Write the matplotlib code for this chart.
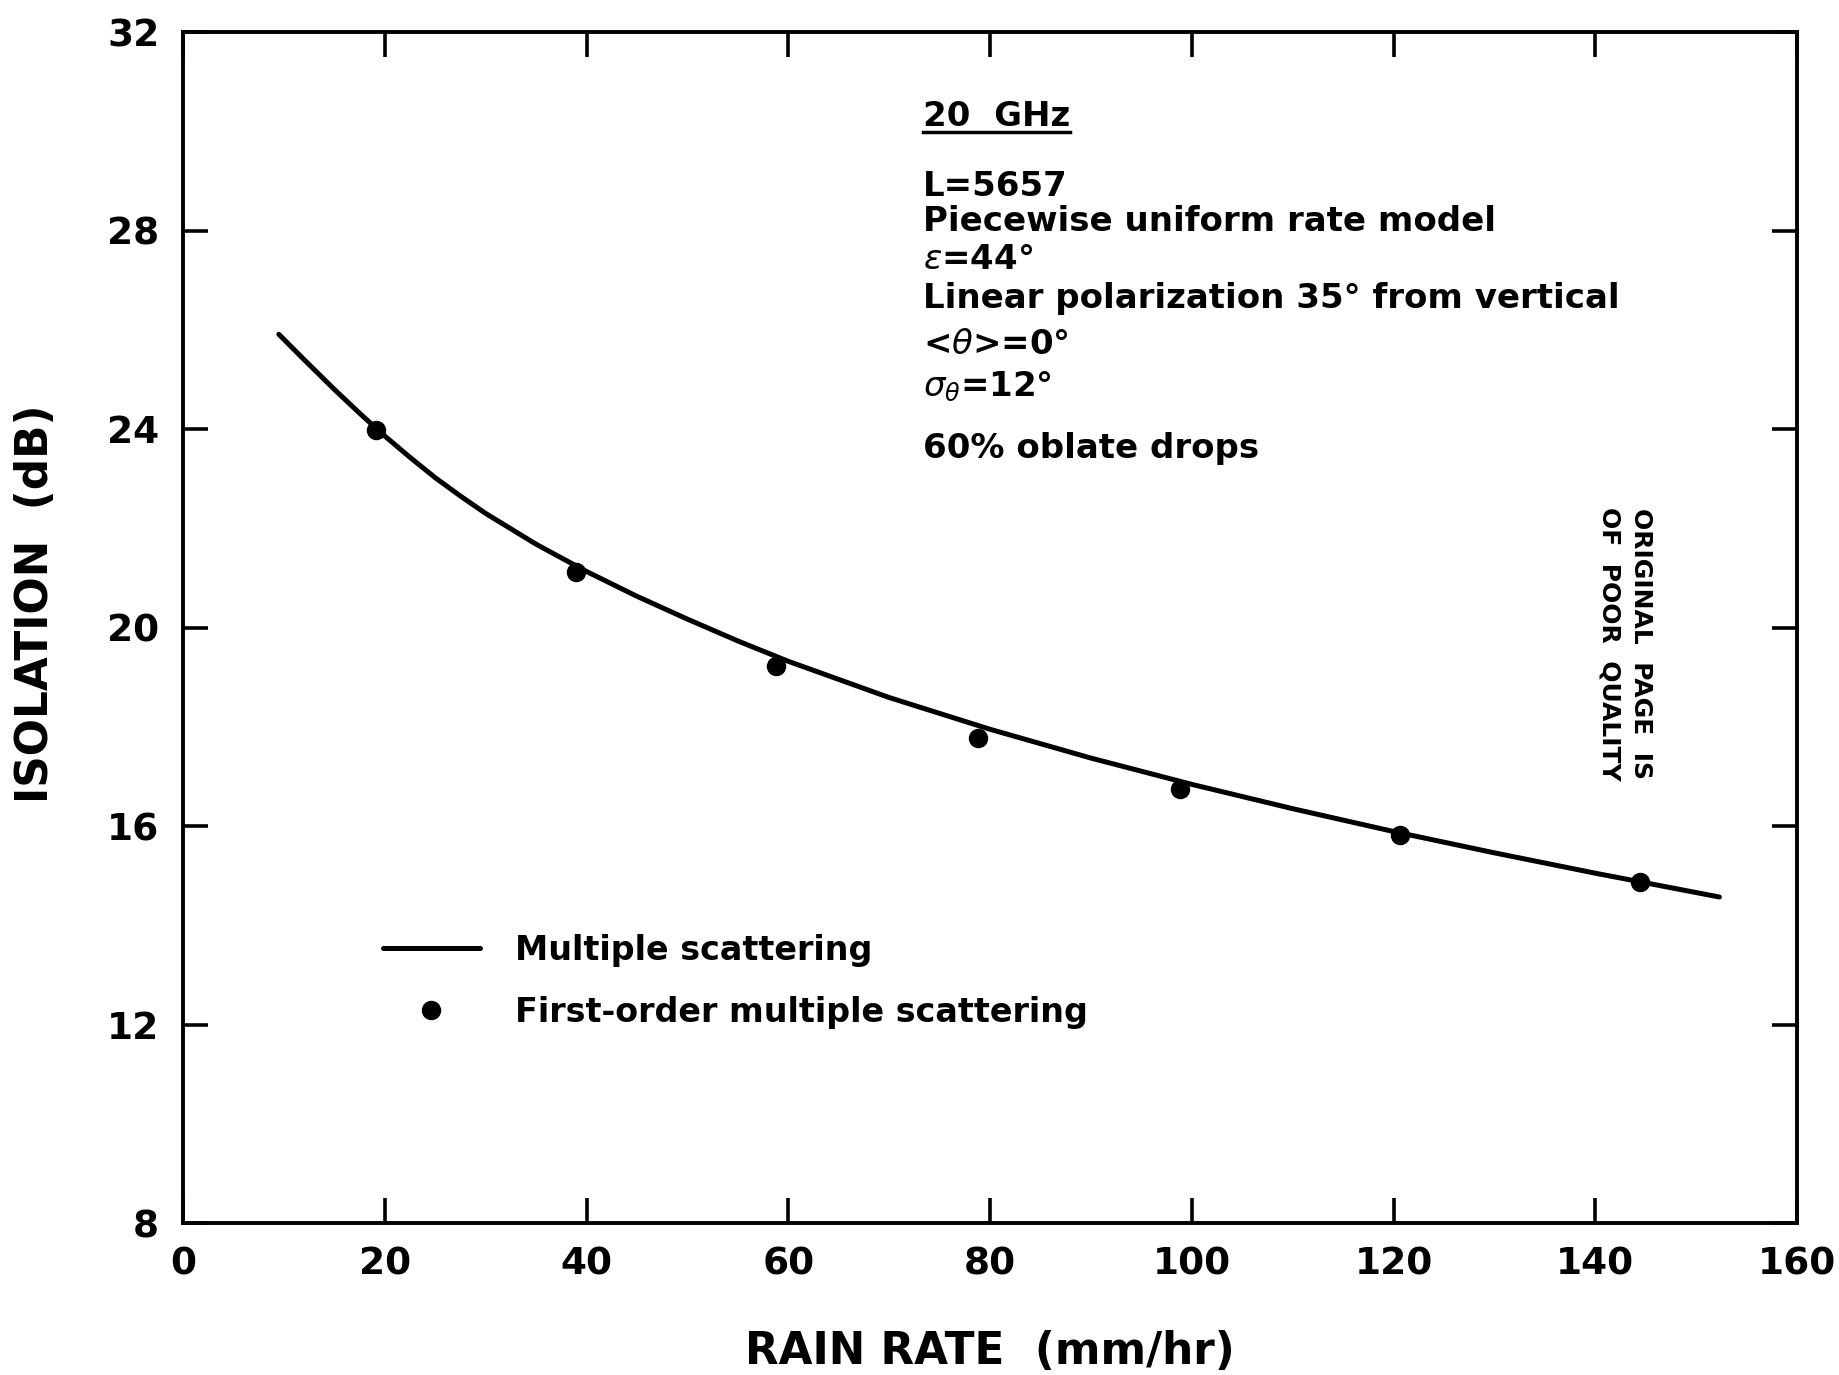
import matplotlib
matplotlib.use("Agg")
import matplotlib.pyplot as plt
from matplotlib.lines import Line2D

# multiple scattering curve
rate_curve = [9.5, 12.0, 15.0, 17.5, 20.0, 22.5, 25.0, 27.5, 30.0, 35.0, 40.0, 45.0,
              50.0, 55.0, 60.0, 70.0, 80.0, 90.0, 100.0, 110.0, 120.0, 130.0, 140.0, 152.3]
iso_curve = [25.91, 25.40, 24.80, 24.32, 23.86, 23.43, 23.02, 22.65, 22.30, 21.68, 21.13, 20.63,
             20.17, 19.73, 19.32, 18.59, 17.95, 17.37, 16.84, 16.35, 15.89, 15.46, 15.05, 14.57]

# first-order multiple scattering points
rate_pts = [19.1, 39.0, 58.8, 78.8, 98.8, 120.6, 144.4]
iso_pts = [23.98, 21.11, 19.22, 17.78, 16.75, 15.81, 14.87]

x_ticks = [0, 20, 40, 60, 80, 100, 120, 140, 160]
y_ticks = [8, 12, 16, 20, 24, 28, 32]

notes = ["L=5657",
         "Piecewise uniform rate model",
         r"$\epsilon$=44°",
         "Linear polarization 35° from vertical",
         r"<$\theta$>=0°",
         r"$\sigma_\theta$=12°",
         "60% oblate drops"]
notes_y = [0.862, 0.833, 0.801, 0.768, 0.730, 0.694, 0.642]  # baselines, axes fraction

fig = plt.figure(figsize=(18.39, 13.75), dpi=100)
ax = fig.add_axes([0.0995, 0.1105, 0.8777, 0.8662])

line, = ax.plot(rate_curve, iso_curve, color='black', lw=3.6,
                solid_capstyle='round', solid_joinstyle='round')
dots, = ax.plot(rate_pts, iso_pts, 'o', color='black', ms=13, linestyle='none')

ax.set_xlim(0, 160)
ax.set_ylim(8, 32)
ax.set_xticks(x_ticks)
ax.set_yticks(y_ticks)
for s in ax.spines.values():
    s.set_linewidth(2.8)
ax.tick_params(direction='in', length=18, width=2.6, top=True, right=True,
               labelsize=27, pad=17)
for lab in ax.get_xticklabels() + ax.get_yticklabels():
    lab.set_fontweight('bold')

ax.set_xlabel('RAIN RATE  (mm/hr)', fontsize=31.5, fontweight='bold')
ax.set_ylabel('ISOLATION  (dB)', fontsize=31.5, fontweight='bold')
ax.xaxis.set_label_coords(0.5, -0.090)
ax.yaxis.set_label_coords(-0.078, 0.52)

# annotation block
title = ax.text(0.4585, 0.921, '20  GHz', transform=ax.transAxes, fontsize=24.5,
                fontweight='bold', va='baseline', ha='left')
for txt, yy in zip(notes, notes_y):
    ax.text(0.4585, yy, txt, transform=ax.transAxes, fontsize=24.5,
            fontweight='bold', va='baseline', ha='left')

ax.legend([line, dots], ['Multiple scattering', 'First-order multiple scattering'],
          loc='upper left', bbox_to_anchor=(0.124, 0.243), frameon=False,
          prop={'size': 24, 'weight': 'bold'}, handlelength=2.9, handletextpad=1.05,
          labelspacing=0.88, borderpad=0, borderaxespad=0)

fig.text(0.884, 0.532, 'ORIGINAL  PAGE  IS\nOF  POOR  QUALITY', rotation=-90,
         fontsize=18, fontweight='bold', ha='center', va='center', linespacing=1.4)

# underline for the frequency label
fig.canvas.draw()
bb = title.get_window_extent()
fig.add_artist(Line2D([bb.x0, bb.x1], [bb.y0 + 1, bb.y0 + 1], color='black',
                      lw=2.5, transform=None))

fig.savefig('out.png', dpi=100)
